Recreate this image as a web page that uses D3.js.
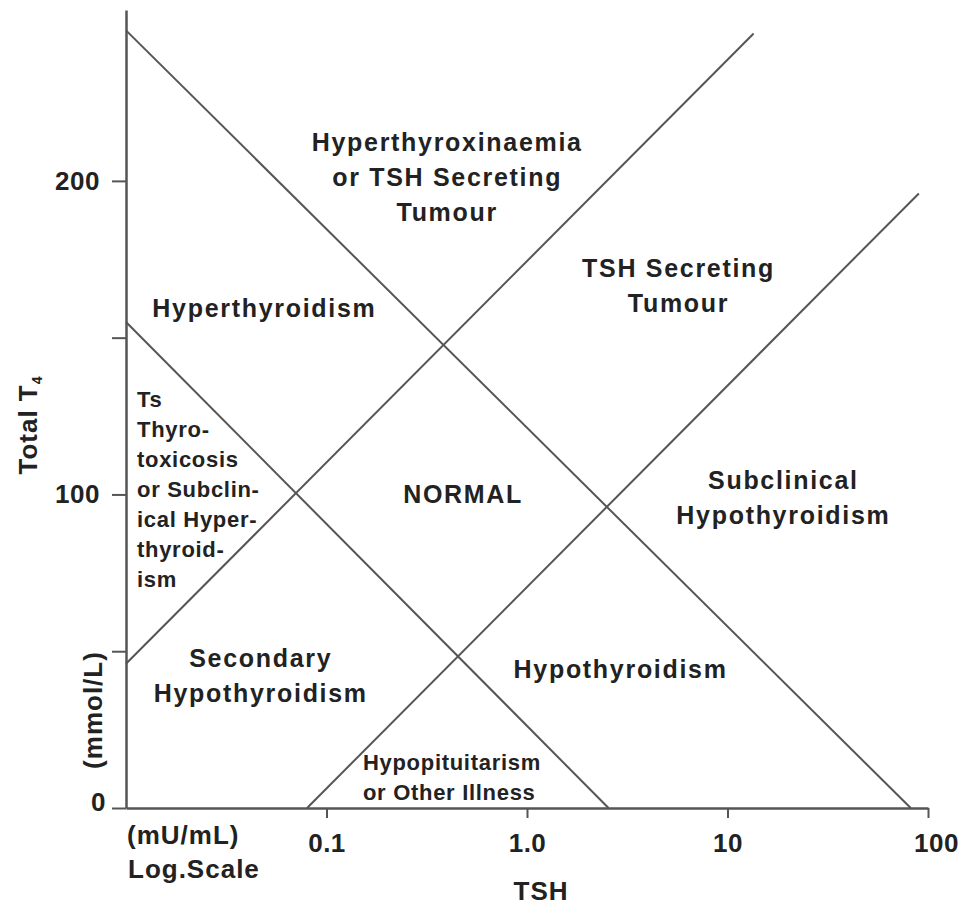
<!DOCTYPE html>
<html>
<head>
<meta charset="utf-8">
<script src="https://cdn.jsdelivr.net/npm/d3@7"></script>
<style>
  body { margin: 0; background: #fff; }
  svg { display: block; }
  text { font-family: "Liberation Sans", Arial, Helvetica, sans-serif; font-weight: bold; fill: #222; }
  .big { font-size: 25px; letter-spacing: 1.7px; }
  .small { font-size: 22px; letter-spacing: 0.7px; }
  .axisTitle { font-size: 26px; letter-spacing: 1px; }
  .boundary { fill: none; stroke: #555; stroke-width: 2; }
</style>
</head>
<body>
<svg width="964" height="906"></svg>
<script>
"use strict";

// TSH (log scale) and total T4 ranges
var tshDomain = [0.01, 100];
var t4Domain = [0, 254.5];

var tshTicks = [0.1, 1, 10, 100];
var tshTickLabels = ["0.1", "1.0", "10", "100"];
var t4Ticks = [0, 50, 100, 150, 200];
var t4TickLabels = ["0", "", "100", "", "200"];

// boundary lines as [TSH, T4] end points
var upperFalling = [[0.01, 248], [82, 0]];
var lowerFalling = [[0.01, 155], [2.55, 0]];
var upperRising = [[0.01, 46], [13.5, 247]];
var lowerRising = [[0.08, 0], [90, 196]];

// region names, anchored at [TSH, T4] of the first line
var bigLabels = [
    {lines: ["Hyperthyroxinaemia", "or TSH Secreting", "Tumour"], tsh: 0.40, t4: 209.6},
    {lines: ["TSH Secreting", "Tumour"], tsh: 5.7, t4: 169.4},
    {lines: ["Hyperthyroidism"], tsh: 0.049, t4: 156.6},
    {lines: ["NORMAL"], tsh: 0.48, t4: 97.3},
    {lines: ["Subclinical", "Hypothyroidism"], tsh: 19, t4: 101.8},
    {lines: ["Hypothyroidism"], tsh: 2.93, t4: 41.5},
    {lines: ["Secondary", "Hypothyroidism"], tsh: 0.047, t4: 45}
];
var smallLabels = [
    {lines: ["Ts", "Thyro-", "toxicosis", "or Subclin-", "ical Hyper-", "thyroid-", "ism"], tsh: 0.01135, t4: 127.9},
    {lines: ["Hypopituitarism", "or Other Illness"], tsh: 0.152, t4: 12.1}
];

document.addEventListener("DOMContentLoaded", init);

function init() {
    var svg = d3.select("svg");

    var x = d3.scaleLog().domain(tshDomain).range([126, 928]);
    var y = d3.scaleLinear().domain(t4Domain).range([808, 10]);

    // axes
    var yAxis = svg.append("g")
        .attr("transform", "translate(126,0)")
        .call(d3.axisLeft(y)
            .tickValues(t4Ticks)
            .tickSize(14)
            .tickSizeOuter(0)
            .tickPadding(12)
            .tickFormat(function(d, i) { return t4TickLabels[i]; }));

    var xAxis = svg.append("g")
        .attr("transform", "translate(0,808)")
        .call(d3.axisBottom(x)
            .tickValues(tshTicks)
            .tickSize(10)
            .tickSizeOuter(0)
            .tickPadding(16)
            .tickFormat(function(d, i) { return tshTickLabels[i]; }));

    [xAxis, yAxis].forEach(function(g) {
        g.select(".domain").attr("stroke", "#555").attr("stroke-width", 2.5);
        g.selectAll(".tick line").attr("stroke", "#555").attr("stroke-width", 2);
        g.selectAll(".tick text")
            .attr("fill", "#222")
            .style("font-size", "26px")
            .style("letter-spacing", "0.5px")
            .style("font-family", "Liberation Sans, Arial, sans-serif")
            .style("font-weight", "bold");
    });
    // the zero label sits a little lower and to the right
    yAxis.selectAll(".tick text").filter(function(d) { return d === 0; })
        .attr("x", -20).attr("dy", "0.1em");
    xAxis.selectAll(".tick text").filter(function(d) { return d === 100; })
        .attr("x", 8);

    // region boundaries
    var line = d3.line()
        .x(function(d) { return x(d[0]); })
        .y(function(d) { return y(d[1]); });

    svg.append("g")
        .selectAll("path")
        .data([upperFalling, lowerFalling, upperRising, lowerRising])
        .enter().append("path")
        .attr("class", "boundary")
        .attr("d", line);

    // region labels
    drawLabels(svg, bigLabels, "big", "middle", 35, x, y);
    drawLabels(svg, smallLabels, "small", "start", 30, x, y);

    // axis titles
    svg.append("text").attr("class", "axisTitle")
        .attr("x", 541).attr("y", 900)
        .attr("text-anchor", "middle")
        .text("TSH");

    svg.append("text").attr("class", "axisTitle")
        .attr("x", 127).attr("y", 844)
        .text("(mU/mL)");
    svg.append("text").attr("class", "axisTitle")
        .attr("x", 128).attr("y", 878)
        .text("Log.Scale");

    var t4 = svg.append("text").attr("class", "axisTitle")
        .attr("transform", "translate(37,425) rotate(-90)")
        .attr("text-anchor", "middle");
    t4.append("tspan").text("Total T");
    t4.append("tspan").attr("dy", 5).style("font-size", "14px").text("4");

    svg.append("text").attr("class", "axisTitle")
        .attr("transform", "translate(102,710) rotate(-90)")
        .attr("text-anchor", "middle")
        .text("(mmol/L)");
}

function drawLabels(svg, labels, cls, anchor, lineHeight, x, y) {
    svg.append("g")
        .selectAll("text")
        .data(labels)
        .enter().append("text")
        .attr("class", cls)
        .attr("text-anchor", anchor)
        .each(function(d) {
            var sel = d3.select(this);
            d.lines.forEach(function(t, i) {
                sel.append("tspan")
                    .attr("x", x(d.tsh))
                    .attr("y", y(d.t4) + i * lineHeight)
                    .text(t);
            });
        });
}
</script>
</body>
</html>
